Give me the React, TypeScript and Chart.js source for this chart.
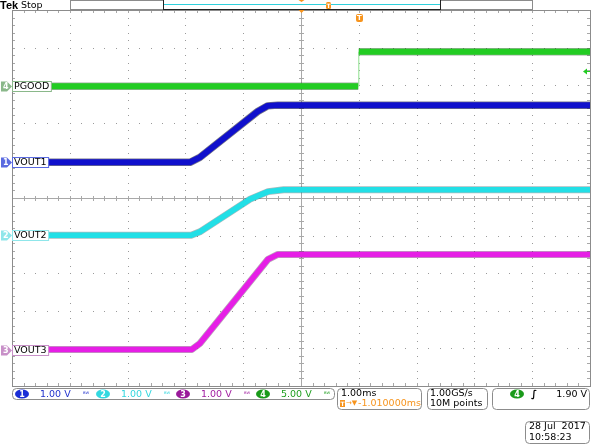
import React, { useEffect, useRef } from "react";
import { Chart, registerables } from "chart.js";
Chart.register(...registerables);

// ---- data: time in ms relative to screen centre, level in divisions ----
const pgoodTime = [-5, 0.99, 1.0, 5];
const pgoodLevel = [2.97, 2.97, 3.89, 3.89];
const vout1Time = [-5, -1.92, -1.75, -0.75, -0.58, -0.4, 5];
const vout1Level = [0.95, 0.95, 1.08, 2.3, 2.45, 2.47, 2.47];
const vout2Time = [-5, -1.9, -1.75, -0.88, -0.57, -0.3, 5];
const vout2Level = [-0.99, -0.99, -0.9, -0.03, 0.17, 0.22, 0.22];
const vout3Time = [-5, -1.89, -1.75, -0.57, -0.4, 5];
const vout3Level = [-4.03, -4.03, -3.87, -1.63, -1.5, -1.5];

const channelNames = ["VOUT1", "VOUT2", "VOUT3", "PGOOD"];
const channelNumbers = ["1", "2", "3", "4"];
const channelScales = ["1.00 V", "1.00 V", "1.00 V", "5.00 V"];
const channelGround = [0.95, -0.99, -4.03, 2.97];
const triggerLevelDiv = 3.38;
const triggerTime = 1.0;
const timebaseText = "1.00ms";
const delayText = "-1.010000ms";
const sampleRateText = "1.00GS/s";
const recordText = "10M points";
const triggerText = "1.90 V";
const dateText = "28 Jul  2017";
const clockText = "10:58:23";

const traceColors = ["#1010cc", "#22dfe6", "#e61ee6", "#22cc22"];
const edgeColors = ["rgba(0,0,40,0.55)", "rgba(0,60,70,0.35)", "rgba(60,0,60,0.35)", "rgba(0,50,0,0.4)"];
const textColors = ["#2233cc", "#33d6de", "#a01ea0", "#1e9e1e"];
const badgeColors = ["#1a2ed6", "#33d8e0", "#9a1a9a", "#1a9a1a"];
const markerColors = ["#5a6ae0", "#8fe6ea", "#c890c8", "#8ab88a"];
const ORANGE = "#f7941d";
const FONT = "DejaVu Sans";

const mk = (t: number[], v: number[]) => t.map((x, i) => ({ x, y: v[i] }));

const graticule = {
  id: "graticule",
  beforeDraw(chart: any) {
    const ctx = chart.ctx;
    ctx.save();
    ctx.fillStyle = "#ffffff";
    ctx.fillRect(0, 0, chart.width, chart.height);
    ctx.restore();
  },
  beforeDatasetsDraw(chart: any) {
    const ctx = chart.ctx;
    const xs = chart.scales.x;
    const ys = chart.scales.y;
    const ca = chart.chartArea;
    ctx.save();
    ctx.fillStyle = "#9a9a9a";
    for (let i = -4; i <= 4; i++) {
      if (i === 0) continue;
      const px = Math.round(xs.getPixelForValue(i));
      for (let j = -24; j <= 24; j++) {
        const py = Math.round(ys.getPixelForValue(j / 5));
        ctx.fillRect(px, py, 1, 1);
      }
      const py2 = Math.round(ys.getPixelForValue(i));
      for (let j = -24; j <= 24; j++) {
        const px2 = Math.round(xs.getPixelForValue(j / 5));
        ctx.fillRect(px2, py2, 1, 1);
      }
    }
    const cx = Math.round(xs.getPixelForValue(0));
    const cy = Math.round(ys.getPixelForValue(0));
    ctx.fillStyle = "#a8a8a8";
    ctx.fillRect(cx, Math.round(ca.top), 1, Math.round(ca.bottom - ca.top));
    ctx.fillRect(Math.round(ca.left), cy, Math.round(ca.right - ca.left), 1);
    for (let j = -24; j <= 24; j++) {
      const py = Math.round(ys.getPixelForValue(j / 5));
      ctx.fillRect(cx - 2, py, 5, 1);
      ctx.fillRect(Math.round(ca.left), py, 3, 1);
      ctx.fillRect(Math.round(ca.right) - 3, py, 3, 1);
      const px = Math.round(xs.getPixelForValue(j / 5));
      ctx.fillRect(px, cy - 2, 1, 5);
      ctx.fillRect(px, Math.round(ca.top), 1, 3);
      ctx.fillRect(px, Math.round(ca.bottom) - 3, 1, 3);
    }
    ctx.fillStyle = "#8c8c8c";
    const L = Math.round(ca.left), R = Math.round(ca.right), T = Math.round(ca.top), B = Math.round(ca.bottom);
    ctx.fillRect(L, T, R - L + 1, 1);
    ctx.fillRect(L, B, R - L + 1, 1);
    ctx.fillRect(L, T, 1, B - T);
    ctx.fillRect(R, T, 1, B - T);
    ctx.restore();
  },
};

function roundBox(ctx: any, x: number, y: number, w: number, h: number, r: number, stroke: string, fill = "#ffffff") {
  ctx.beginPath();
  ctx.roundRect(x, y, w, h, r);
  ctx.fillStyle = fill;
  ctx.fill();
  ctx.strokeStyle = stroke;
  ctx.lineWidth = 1;
  ctx.stroke();
}

function badge(ctx: any, cx: number, cy: number, color: string, txt: string) {
  ctx.beginPath();
  ctx.ellipse(cx, cy, 7, 4.5, 0, 0, Math.PI * 2);
  ctx.fillStyle = color;
  ctx.fill();
  ctx.fillStyle = "#ffffff";
  ctx.font = `bold 8px ${FONT}`;
  ctx.textAlign = "center";
  ctx.textBaseline = "middle";
  ctx.fillText(txt, cx, cy + 0.5);
}

const overlay = {
  id: "overlay",
  afterDraw(chart: any) {
    const ctx = chart.ctx;
    const xs = chart.scales.x;
    const ys = chart.scales.y;
    const ca = chart.chartArea;
    ctx.save();

    // channel labels and ground markers
    ctx.textAlign = "left";
    ctx.textBaseline = "middle";
    for (let i = 0; i < 4; i++) {
      const py = Math.round(ys.getPixelForValue(channelGround[i])) + 0.5;
      ctx.font = `9.5px ${FONT}`;
      const w = ctx.measureText(channelNames[i]).width;
      ctx.fillStyle = "#ffffff";
      ctx.fillRect(ca.left + 1, py - 5, w + 3, 10);
      ctx.strokeStyle = markerColors[i];
      ctx.lineWidth = 1;
      ctx.strokeRect(ca.left + 0.5, py - 5, w + 3.5, 10);
      ctx.fillStyle = "#000000";
      ctx.fillText(channelNames[i], ca.left + 2, py + 0.5);
      ctx.beginPath();
      ctx.moveTo(1, py - 5);
      ctx.lineTo(7, py - 5);
      ctx.lineTo(12, py);
      ctx.lineTo(7, py + 5);
      ctx.lineTo(1, py + 5);
      ctx.closePath();
      ctx.fillStyle = markerColors[i];
      ctx.fill();
      ctx.fillStyle = "#ffffff";
      ctx.font = `bold 8px ${FONT}`;
      ctx.fillText(channelNumbers[i], 3, py + 0.5);
    }

    // trigger level arrow (right)
    const ty = Math.round(ys.getPixelForValue(triggerLevelDiv)) + 0.5;
    ctx.strokeStyle = traceColors[3];
    ctx.fillStyle = traceColors[3];
    ctx.lineWidth = 1;
    ctx.beginPath();
    ctx.moveTo(586, ty);
    ctx.lineTo(590, ty);
    ctx.stroke();
    ctx.beginPath();
    ctx.moveTo(583, ty);
    ctx.lineTo(587, ty - 3);
    ctx.lineTo(587, ty + 3);
    ctx.closePath();
    ctx.fill();

    // trigger point marker
    const tx = Math.round(xs.getPixelForValue(triggerTime));
    ctx.beginPath();
    ctx.roundRect(tx - 3, 14, 7, 8, 2);
    ctx.fillStyle = ORANGE;
    ctx.fill();
    ctx.fillStyle = "#ffffff";
    ctx.font = `bold 7px ${FONT}`;
    ctx.textAlign = "center";
    ctx.fillText("T", tx + 0.5, 18.5);

    // top bar
    ctx.textAlign = "left";
    ctx.textBaseline = "alphabetic";
    ctx.fillStyle = "#000000";
    ctx.font = `bold 11px Liberation Sans`;
    ctx.fillText("Tek", 0, 9);
    ctx.font = `9.5px ${FONT}`;
    ctx.fillText("Stop", 21, 8);
    ctx.strokeStyle = "#8c8c8c";
    ctx.strokeRect(70.5, 0.5, 462, 9);
    ctx.fillStyle = "#ffffff";
    ctx.fillRect(164, 0, 276, 9);
    ctx.fillStyle = "#30d0dc";
    ctx.fillRect(164, 4, 276, 1);
    ctx.fillStyle = "#222222";
    ctx.fillRect(163, 0, 1, 10);
    ctx.fillRect(440, 0, 1, 10);
    ctx.fillRect(163, 9, 278, 1);
    const cx = Math.round(xs.getPixelForValue(0)) + 0.5;
    ctx.fillStyle = ORANGE;
    ctx.beginPath();
    ctx.moveTo(cx - 3, 0); ctx.lineTo(cx + 3, 0); ctx.lineTo(cx, 2); ctx.closePath(); ctx.fill();
    ctx.beginPath();
    ctx.moveTo(cx - 3, 10); ctx.lineTo(cx + 3, 10); ctx.lineTo(cx, 13); ctx.closePath(); ctx.fill();
    ctx.beginPath();
    ctx.roundRect(326, 2, 5, 7, 1.5);
    ctx.fill();
    ctx.fillStyle = "#ffffff";
    ctx.font = `bold 6px ${FONT}`;
    ctx.textAlign = "center";
    ctx.fillText("T", 328.5, 8);

    // bottom channel bar
    roundBox(ctx, 12.5, 388.5, 322, 11, 4, "#8c8c8c");
    const badgeX = [22, 103, 183, 263];
    ctx.textBaseline = "middle";
    for (let i = 0; i < 4; i++) {
      badge(ctx, badgeX[i], 394, badgeColors[i], channelNumbers[i]);
      ctx.fillStyle = textColors[i];
      ctx.font = `9.5px ${FONT}`;
      ctx.textAlign = "left";
      ctx.fillText(channelScales[i], badgeX[i] + 18, 394.5);
      ctx.font = `6px ${FONT}`;
      ctx.fillText("ᴮᵂ", badgeX[i] + 61, 394);
    }

    // timebase box
    roundBox(ctx, 337.5, 388.5, 84, 21, 4, "#8c8c8c");
    ctx.fillStyle = "#000000";
    ctx.font = `9.5px ${FONT}`;
    ctx.textAlign = "left";
    ctx.fillText(timebaseText, 341, 393.5);
    ctx.save();
    ctx.beginPath();
    ctx.rect(338, 398, 83, 11);
    ctx.clip();
    ctx.fillStyle = ORANGE;
    ctx.fillRect(340, 400, 5, 7);
    ctx.fillStyle = "#ffffff";
    ctx.font = `bold 6px ${FONT}`;
    ctx.textAlign = "center";
    ctx.fillText("T", 342.5, 404);
    ctx.fillStyle = ORANGE;
    ctx.textAlign = "left";
    ctx.font = `7px ${FONT}`;
    ctx.fillText("→▼", 346, 403.5);
    ctx.font = `9.5px ${FONT}`;
    ctx.fillText(delayText, 358, 403.5);
    ctx.restore();

    // acquisition box
    roundBox(ctx, 427.5, 388.5, 60, 21, 4, "#8c8c8c");
    ctx.fillStyle = "#000000";
    ctx.font = `9.5px ${FONT}`;
    ctx.textAlign = "left";
    ctx.fillText(sampleRateText, 430, 393.5);
    ctx.fillText(recordText, 430, 403.5);

    // trigger box
    roundBox(ctx, 492.5, 388.5, 97, 21, 4, "#8c8c8c");
    badge(ctx, 517, 394, badgeColors[3], "4");
    ctx.fillStyle = "#000000";
    ctx.font = `italic bold 10px ${FONT}`;
    ctx.textAlign = "left";
    ctx.fillText("∫", 531, 394.5);
    ctx.font = `9.5px ${FONT}`;
    ctx.textAlign = "right";
    ctx.fillText(triggerText, 587, 394.5);

    // date box
    roundBox(ctx, 525.5, 421.5, 64, 22, 4, "#8c8c8c");
    ctx.fillStyle = "#000000";
    ctx.textAlign = "left";
    ctx.fillText(dateText, 529, 427);
    ctx.fillText(clockText, 529, 437.5);

    ctx.restore();
  },
};

export default function App() {
  const ref = useRef<HTMLCanvasElement>(null);
  useEffect(() => {
    if (!ref.current) return;
    const isStep = (c: any) => c.p0.parsed.y !== c.p1.parsed.y && Math.abs(c.p1.parsed.x - c.p0.parsed.x) < 0.05;
    const stepWidth = (w: number) => (c: any) => (isStep(c) ? 1 : w);
    const series = [
      { t: pgoodTime, v: pgoodLevel, ch: 3, w: 7.5 },
      { t: vout1Time, v: vout1Level, ch: 0, w: 7.5 },
      { t: vout2Time, v: vout2Level, ch: 1, w: 7 },
      { t: vout3Time, v: vout3Level, ch: 2, w: 7 },
    ];
    const datasets: any[] = [];
    series.forEach((s) => {
      datasets.push({
        label: channelNames[s.ch],
        data: mk(s.t, s.v),
        order: 0,
        borderColor: traceColors[s.ch],
        borderWidth: s.w - 1.5,
        segment: { borderWidth: stepWidth(s.w - 1.5), borderColor: (c: any) => (isStep(c) ? "#8ee08e" : traceColors[s.ch]) },
      });
      datasets.push({
        label: channelNames[s.ch] + " edge",
        data: mk(s.t, s.v),
        order: 1,
        borderColor: edgeColors[s.ch],
        borderWidth: s.w,
        segment: { borderWidth: stepWidth(s.w), borderColor: (c: any) => (isStep(c) ? "rgba(0,0,0,0)" : edgeColors[s.ch]) },
      });
    });
    const chart = new Chart(ref.current, {
      type: "line",
      data: { datasets },
      options: {
        responsive: false,
        animation: false,
        events: [],
        layout: { padding: { left: 12, top: 10, right: 2, bottom: 58 } },
        elements: { point: { radius: 0 }, line: { tension: 0, borderCapStyle: "butt", borderJoinStyle: "round" } },
        plugins: { legend: { display: false }, tooltip: { enabled: false } },
        scales: {
          x: { type: "linear", min: -5, max: 5, display: false },
          y: { type: "linear", min: -5, max: 5, display: false },
        },
      },
      plugins: [graticule, overlay],
    } as any);
    return () => chart.destroy();
  }, []);
  return (
    <div style={{ position: "fixed", left: 0, top: 0, width: 592, height: 444, background: "#fff" }}>
      <canvas ref={ref} width={592} height={444} style={{ display: "block" }} />
    </div>
  );
}
